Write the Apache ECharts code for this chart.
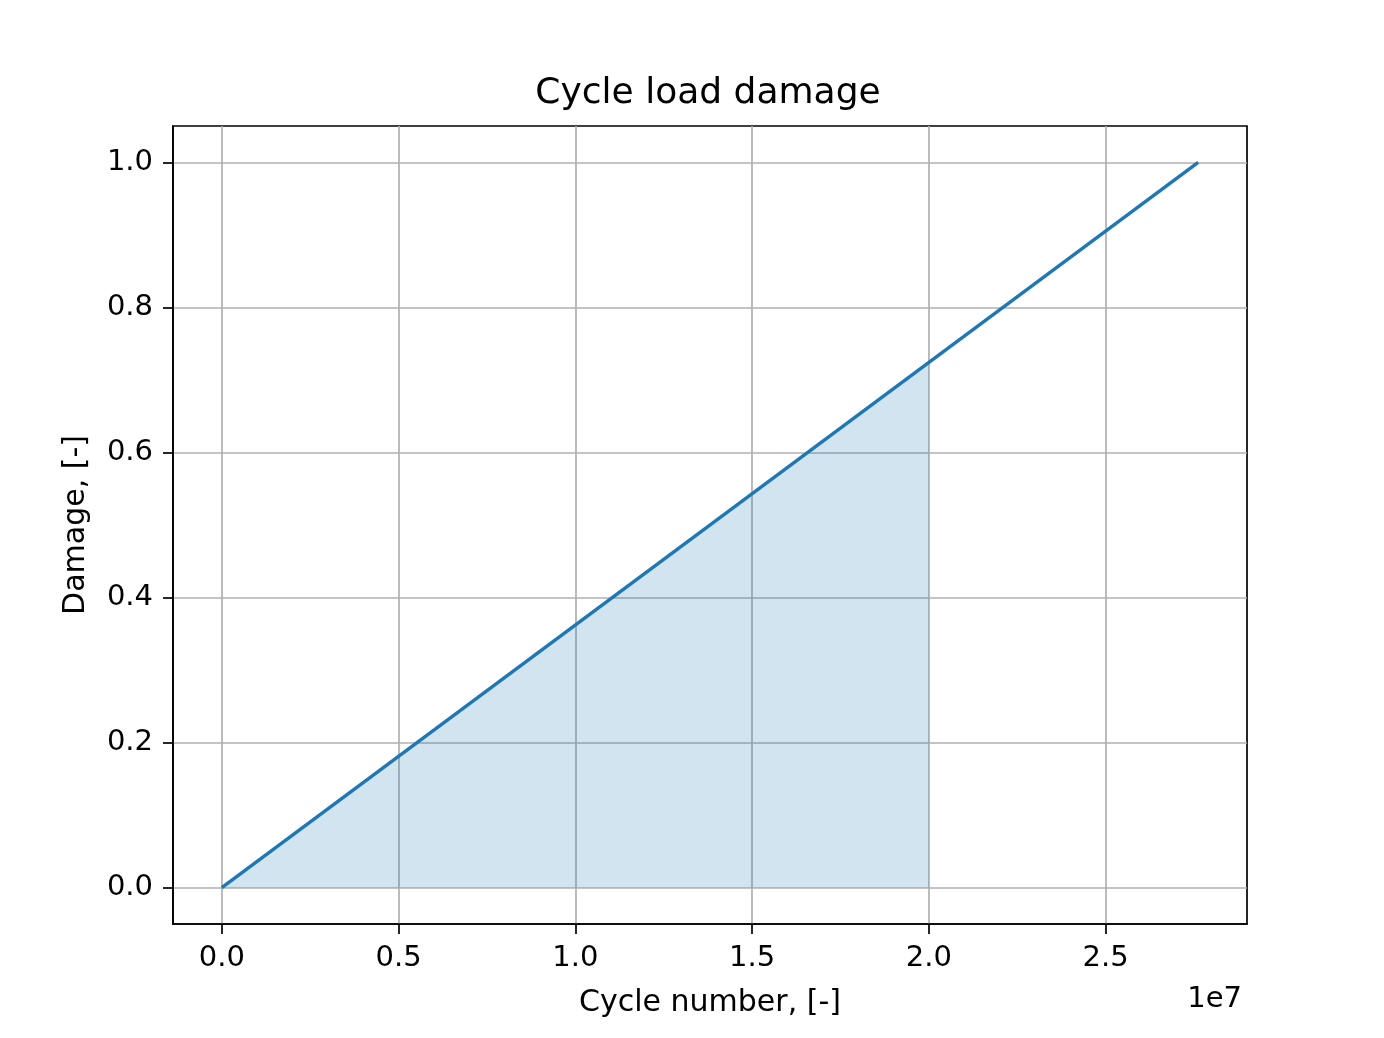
<!DOCTYPE html>
<html>
<head>
    <meta charset="UTF-8">
    <title>Cycle load damage</title>
    <script src="https://cdn.jsdelivr.net/npm/echarts@6/dist/echarts.min.js"></script>
    <style>
        html, body { margin: 0; padding: 0; background: #fff; }
        #main { width: 1384px; height: 1038px; }
    </style>
</head>
<body>
<div id="main"></div>
<script type="text/javascript">
    // damage line (cycle number vs damage)
    var cycles = [0, 2.762e7];
    var damage = [0, 1.0];
    // shaded region under the line up to 2.0e7 cycles
    var fillCycles = [0, 2.0e7];
    var fillDamage = [0, 0.724];
    // tick positions
    var xTicks = [0, 0.5e7, 1.0e7, 1.5e7, 2.0e7, 2.5e7];
    var yTicks = [0, 0.2, 0.4, 0.6, 0.8, 1.0];

    var font = 'DejaVu Sans';
    var lineData = cycles.map(function (c, i) { return [c, damage[i]]; });
    var fillData = fillCycles.map(function (c, i) { return [c, fillDamage[i]]; });

    var myChart = echarts.init(document.getElementById('main'));

    var option = {
        animation: false,
        backgroundColor: '#ffffff',
        title: {
            text: 'Cycle load damage',
            left: 703,
            top: 71,
            textAlign: 'center',
            textStyle: { fontFamily: font, fontSize: 36, fontWeight: 'normal', color: '#000' }
        },
        grid: {
            left: 173, right: 137, top: 126, bottom: 114,
            show: true, borderColor: '#000', borderWidth: 1.7, backgroundColor: 'transparent'
        },
        xAxis: {
            type: 'value',
            min: -0.1381e7,
            max: 2.9001e7,
            name: 'Cycle number, [-]',
            nameLocation: 'middle',
            nameGap: 64,
            nameTextStyle: { fontFamily: font, fontSize: 30, color: '#000' },
            axisLine: { show: true, onZero: false, lineStyle: { color: '#000', width: 1.7 } },
            axisTick: { show: true, length: 10, inside: false, customValues: xTicks,
                lineStyle: { color: '#000', width: 1.7 } },
            axisLabel: { customValues: xTicks, margin: 20, fontFamily: font, fontSize: 29, color: '#000',
                formatter: function (v) { return (v / 1e7).toFixed(1); } },
            splitLine: { show: true, lineStyle: { color: '#b0b0b0', width: 1.7 } }
        },
        yAxis: {
            type: 'value',
            min: -0.05,
            max: 1.05,
            name: 'Damage, [-]',
            nameLocation: 'middle',
            nameGap: 82,
            nameRotate: 90,
            nameTextStyle: { fontFamily: font, fontSize: 30, color: '#000' },
            axisLine: { show: true, onZero: false, lineStyle: { color: '#000', width: 1.7 } },
            axisTick: { show: true, length: 10, inside: false, customValues: yTicks,
                lineStyle: { color: '#000', width: 1.7 } },
            axisLabel: { customValues: yTicks, margin: 20, fontFamily: font, fontSize: 29, color: '#000',
                formatter: function (v) { return v.toFixed(1); } },
            splitLine: { show: true, lineStyle: { color: '#b0b0b0', width: 1.7 } }
        },
        graphic: [{
            type: 'text',
            right: 142,
            top: 985,
            style: { text: '1e7', font: '29px "DejaVu Sans"', fill: '#000' }
        }],
        series: [
            {
                name: 'fill',
                type: 'line',
                data: fillData,
                showSymbol: false,
                lineStyle: { width: 0 },
                areaStyle: { color: '#1f77b4', opacity: 0.2, origin: 0 },
                z: 1
            },
            {
                name: 'damage',
                type: 'line',
                data: lineData,
                showSymbol: false,
                lineStyle: { color: '#1f77b4', width: 3.4 },
                z: 3
            }
        ]
    };

    myChart.setOption(option);
</script>
</body>
</html>
